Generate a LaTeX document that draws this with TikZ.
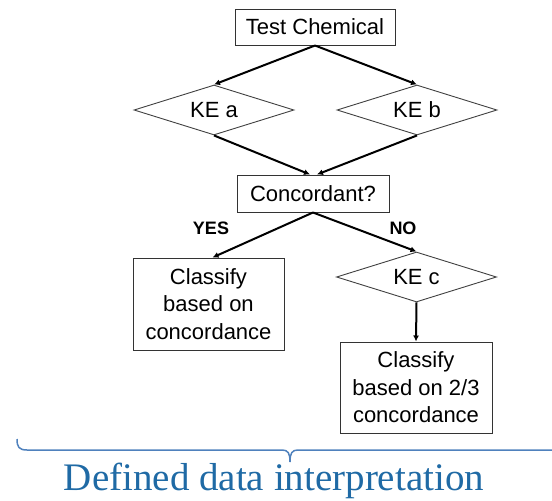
\documentclass[tikz,border=0pt]{standalone}
\usepackage{fontspec}
\setmainfont{Liberation Serif}
\setsansfont{Liberation Sans}
\usetikzlibrary{shapes.geometric,arrows.meta}
\definecolor{titleblue}{RGB}{31,106,165}
\definecolor{braceblue}{RGB}{79,129,189}

\begin{document}
\begin{tikzpicture}[
    x=1pt, y=-1pt,
    box/.style={draw=black!80, line width=1pt, align=center, inner sep=0pt,
    font=\sffamily\fontsize{22}{27.5}\selectfont},
    decision/.style={diamond, aspect=3.2, draw=black!75, line width=0.9pt,
    minimum width=160pt, minimum height=50pt, inner sep=0pt,
    font=\sffamily\fontsize{22}{27.5}\selectfont},
    flow/.style={line width=2pt, -{Latex[length=6pt,width=6pt]}},
    answer/.style={font=\sffamily\bfseries\fontsize{18}{20}\selectfont}
    ]
    \useasboundingbox (0,0) rectangle (552,501);
    % Boxes and decisions
    \node[box, minimum width=160pt, minimum height=36pt] (test) at (315,27) {Test Chemical};
    \node[decision] (kea) at (214,110) {KE a};
    \node[decision] (keb) at (417,110) {KE b};
    \node[box, minimum width=152pt, minimum height=37pt] (conc) at (313,193.5) {Concordant?};
    \node[box, minimum width=151pt, minimum height=92pt] (direct) at (208.5,304)
        {Classify\\based on\\concordance};
    \node[decision] (kec) at (416.5,277) {KE c};
    \node[box, minimum width=152pt, minimum height=91pt] (twothirds) at (416,387.5)
        {Classify\\based on 2/3\\concordance};
    % Answers
    \node[answer] (yes) at (211,228) {YES};
    \node[answer] (no) at (403,228) {NO};
    % Arrows
    \draw[flow] (test.south) -- (kea.north);
    \draw[flow] (test.south) -- (keb.north);
    \draw[flow] (kea.south) -- ([xshift=-3pt]conc.north);
    \draw[flow] (keb.south) -- ([xshift=4pt]conc.north);
    \draw[flow] (conc.south) -- ([xshift=4pt]direct.north);
    \draw[flow] (conc.south) -- (kec.north);
    \draw[flow] (kec.south) -- (twothirds.north);
    % Brace and caption
    \draw[braceblue, line width=1.5pt] (17,439) .. controls (17,447) and (19,450) .. (27,450)
        -- (282,450) .. controls (288,450) and (290,453) .. (290,462)
        .. controls (290,453) and (292,450) .. (298,450) -- (552,450);
    \node[anchor=base, text=titleblue, font=\fontsize{39}{46}\selectfont] (caption)
        at (274,490) {Defined data interpretation};
\end{tikzpicture}
\end{document}
